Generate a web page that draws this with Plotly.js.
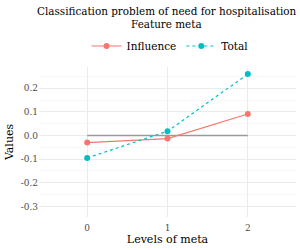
<!DOCTYPE html>
<html><head><meta charset="utf-8">
<script src="https://cdn.plot.ly/plotly-3.0.1.min.js"></script>
<style>body{margin:0;padding:0;background:#fff}#c{width:300px;height:250px}</style>
</head><body><div id="c"></div>
<script>
const levels = [0, 1, 2];
const influence = [-0.030, -0.013, 0.091];
const total = [-0.095, 0.018, 0.260];
const refLine = [0, 0, 0];
const titleLines = ['Classification problem of need for hospitalisation', 'Feature meta'];
const F = '"DejaVu Serif", serif';
const traces = [
  {x: levels, y: refLine, mode: 'lines', line: {color: '#9a9a9a', width: 1.3}, showlegend: false, hoverinfo: 'skip'},
  {x: levels, y: influence, name: 'Influence', mode: 'lines+markers', line: {color: '#F8766D', width: 1.2}, marker: {color: '#F8766D', size: 6}},
  {x: levels, y: total, name: 'Total', mode: 'lines+markers', line: {color: '#00BFC4', width: 1.2, dash: 'dot'}, marker: {color: '#00BFC4', size: 6}}
];
const layout = {
  width: 300, height: 250,
  margin: {l: 39, r: 4, t: 67, b: 33},
  paper_bgcolor: '#fff', plot_bgcolor: '#fff',
  font: {family: F, color: '#333', size: 9},
  annotations: [
    {text: titleLines[0], xref: 'paper', yref: 'paper', x: 0.498, y: 1.375, xanchor: 'center', yanchor: 'middle', showarrow: false, font: {family: F, size: 10.4, color: '#000'}},
    {text: titleLines[1], xref: 'paper', yref: 'paper', x: 0.498, y: 1.285, xanchor: 'center', yanchor: 'middle', showarrow: false, font: {family: F, size: 10.4, color: '#000'}}
  ],
  showlegend: true,
  legend: {orientation: 'h', x: 0.51, xanchor: 'center', y: 1.14, yanchor: 'middle', font: {family: F, size: 10.5, color: '#000'}, itemwidth: 30, tracegroupgap: 0},
  xaxis: {range: [-0.6, 2.6], tickvals: levels, ticktext: levels.map(String), showgrid: true, gridcolor: '#ebebeb', gridwidth: 1, zeroline: false, showline: false, ticks: '', ticklabelstandoff: 4, tickfont: {family: F, size: 9, color: '#4d4d4d'}, title: {text: 'Levels of meta', font: {family: F, size: 11, color: '#000'}, standoff: 3}},
  yaxis: {range: [-0.345, 0.29], tickvals: [-0.3, -0.2, -0.1, 0, 0.1, 0.2], ticktext: ['-0.3','-0.2','-0.1','0.0','0.1','0.2'], showgrid: true, gridcolor: '#ebebeb', gridwidth: 1, zeroline: false, showline: false, ticks: '', tickfont: {family: F, size: 9, color: '#4d4d4d'},
    minor: {tickvals: [-0.35, -0.25, -0.15, -0.05, 0.05, 0.15, 0.25], showgrid: true, gridcolor: '#f3f3f3', gridwidth: 0.6},
    title: {text: 'Values', font: {family: F, size: 11, color: '#000'}, standoff: 4}}
};
Plotly.newPlot('c', traces, layout, {staticPlot: true, displayModeBar: false});
</script></body></html>
